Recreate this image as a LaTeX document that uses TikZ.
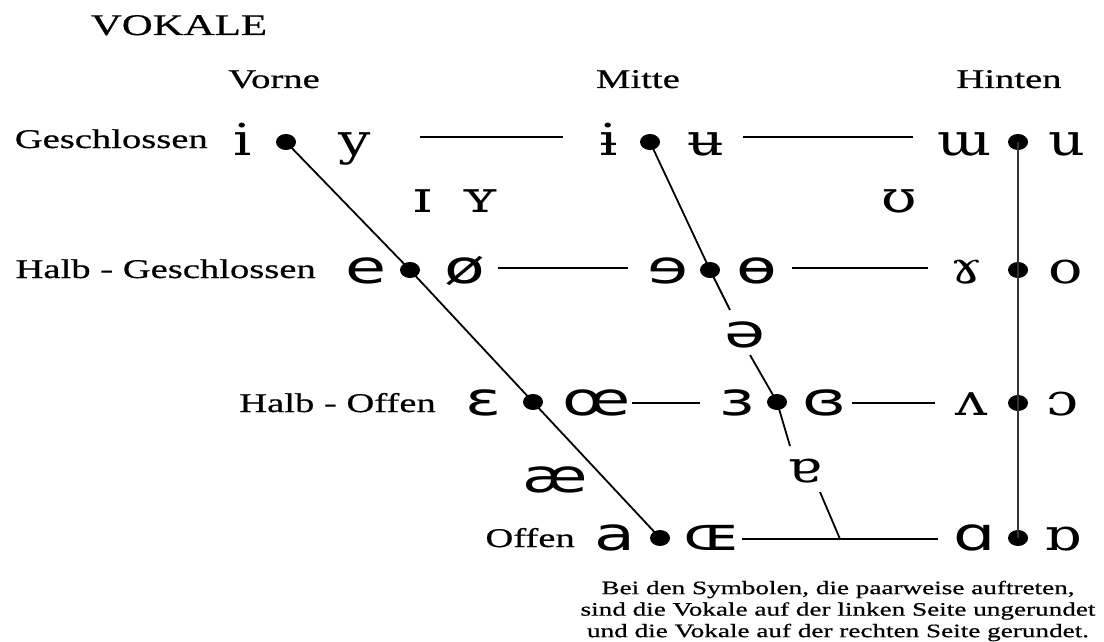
\documentclass[tikz,border=0pt]{standalone}
\usepackage{fontspec}
\setmainfont{Liberation Serif}[FakeStretch=1.43,FakeBold=0.6]
\newfontfamily\ipaserif{DejaVu Serif}[FakeStretch=1.3]
\newfontfamily\ipasans{DejaVu Sans}[FakeStretch=1.45]
\usetikzlibrary{shapes.geometric}
\begin{document}
\begin{tikzpicture}[x=1pt,y=-1pt,
  lab/.style={anchor=base, inner sep=0pt, font=\fontsize{27}{30}\selectfont},
  ttl/.style={anchor=base, inner sep=0pt, font=\fontsize{30}{34}\selectfont},
  sy/.style={anchor=base, inner sep=0pt, font=\fontsize{44}{46}\ipaserif},
  sa/.style={anchor=base, inner sep=0pt, font=\fontsize{46}{48}\ipasans},
  vdot/.style={ellipse, fill=black, minimum width=20pt, minimum height=16pt, inner sep=0pt},
  ln/.style={line width=1.8pt, black},
  note/.style={align=center, inner sep=0pt, font=\fontsize{19}{21.5}\selectfont}]
\useasboundingbox[fill=white] (0,0) rectangle (1104,642);

% titles
\node[ttl] (vokale) at (179,35) {VOKALE};
\node[lab] (vorne) at (274,88) {Vorne};
\node[lab] (mitte) at (638,88) {Mitte};
\node[lab] (hinten) at (1009,88) {Hinten};
\node[lab, anchor=base east] (geschl) at (208,148) {Geschlossen};
\node[lab, anchor=base east] (hgeschl) at (316,278) {Halb - Geschlossen};
\node[lab, anchor=base east] (hoffen) at (436,412) {Halb - Offen};
\node[lab, anchor=base east] (offen) at (575,547) {Offen};

% dots
\node[vdot] (f1) at (286,142) {};
\node[vdot] (f2) at (410,270) {};
\node[vdot] (f3) at (533,402) {};
\node[vdot] (f4) at (660,538) {};
\node[vdot] (c1) at (650,142) {};
\node[vdot] (c2) at (710,270) {};
\node[vdot] (c3) at (777,402) {};
\node[vdot] (b1) at (1018,142) {};
\node[vdot] (b2) at (1018,270) {};
\node[vdot] (b3) at (1018,403) {};
\node[vdot] (b4) at (1018,538) {};

% row 1
\node[sy] (i) at (243,155) {i};
\node[sy] (y) at (355,155) {y};
\node[sy] (ibar) at (609,155) {ɨ};
\node[sy] (ubar) at (706,155) {ʉ};
\node[sy] (turnm) at (965,155) {ɯ};
\node[sy] (u) at (1067,155) {u};
% row 2
\node[sy] (smallI) at (423,212) {ɪ};
\node[sy] (smallY) at (480,212) {ʏ};
\node[sy] (upsilon) at (899,212) {ʊ};
% row 3
\node[sa] (e) at (366,283) {e};
\node[sa] (oslash) at (465,283) {ø};
\node[sa] (reve) at (668,283) {ɘ};
\node[sa] (obar) at (757,283) {ɵ};
\node[sy] (ramshorn) at (967,283) {ɤ};
\node[sy] (o) at (1066,283) {o};
\node[sa] (schwa) at (745,347) {ə};
% row 4
\node[sa] (epsilon) at (484,415) {ɛ};
\node[sa] (oe) at (597,415) {œ};
\node[sa] (revepsilon) at (737,415) {ɜ};
\node[sa] (closedrev) at (825,415) {ɞ};
\node[sy] (turnv) at (972,415) {ʌ};
\node[sy] (openo) at (1063,415) {ɔ};
\node[sa] (ae) at (555,492) {æ};
\node[sy] (turna) at (805,482) {ɐ};
% row 5
\node[sa] (a) at (615,550) {a};
\node[sa] (capoe) at (712,550) {ɶ};
\node[sa] (alpha) at (975,550) {ɑ};
\node[sy] (turnalpha) at (1063,550) {ɒ};

% line ends
\coordinate (l1a) at (420,137);
\coordinate (l1b) at (563,137);
\coordinate (l1c) at (743,137);
\coordinate (l1d) at (913,137);
\coordinate (l3a) at (498,268);
\coordinate (l3b) at (628,268);
\coordinate (l3c) at (792,268);
\coordinate (l3d) at (928,268);
\coordinate (l4a) at (632,403);
\coordinate (l4b) at (700,403);
\coordinate (l4c) at (852,403);
\coordinate (l4d) at (935,403);
\coordinate (l5a) at (742,539);
\coordinate (l5b) at (938,539);
\coordinate (cg1) at (730,310);
\coordinate (cg2) at (750,355);
\coordinate (cg3) at (790,446);
\coordinate (cg4) at (820,492);
\coordinate (junc) at (840,539);

% connectors
\draw[ln] (l1a) -- (l1b);
\draw[ln] (l1c) -- (l1d);
\draw[ln] (l3a) -- (l3b);
\draw[ln] (l3c) -- (l3d);
\draw[ln] (l4a) -- (l4b);
\draw[ln] (l4c) -- (l4d);
\draw[ln] (l5a) -- (l5b);
\draw[ln] (f1.center) -- (f2.center) -- (f3.center) -- (f4.center);
\draw[ln] (c1.center) -- (c2.center) -- (cg1);
\draw[ln] (cg2) -- (c3.center) -- (cg3);
\draw[ln] (cg4) -- (junc);
\draw[ln, line width=1.5pt, black!80] (b1.center) -- (b4.center);

% note
\node[note] (hinweis) at (838,611) {Bei den Symbolen, die paarweise auftreten,\\
sind die Vokale auf der linken Seite ungerundet\\
und die Vokale auf der rechten Seite gerundet.};
\end{tikzpicture}
\end{document}
